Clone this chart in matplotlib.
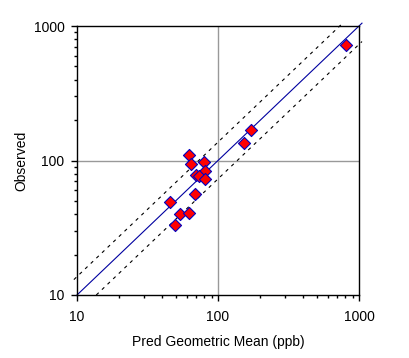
import numpy as np
import matplotlib.pyplot as plt
from matplotlib.ticker import LogLocator, NullFormatter, FixedLocator

plt.rcParams['font.family'] = ['Liberation Sans', 'DejaVu Sans']

# predicted geometric mean vs observed (ppb)
pred = [62.2, 64.3, 79.4, 80.7, 70.2, 73.2, 80.7, 68.2, 45.6, 53.7, 62.2, 49.3, 171.6, 153.9, 812.9]
observed = [109.9, 93.7, 97.0, 83.6, 78.4, 76.7, 72.5, 56.6, 49.1, 39.8, 40.7, 33.0, 168.6, 134.3, 722.0]
band = 1.37  # factor for the dashed lines
x_ticks = [10, 100, 1000]
tick_labels = ['10', '100', '1000']

fig = plt.figure(figsize=(4.09, 3.58), dpi=100)
ax = fig.add_axes([77 / 409, 1 - 295 / 358, 282 / 409, 269 / 358])
ax.set_xscale('log')
ax.set_yscale('log')
ax.set_xlim(10, 1000)
ax.set_ylim(10, 1000)

# grid only at 100
ax.axvline(100, color='#999999', lw=1, zorder=1)
ax.axhline(100, color='#999999', lw=1, zorder=1)

# 1:1 line and factor band
xs = np.array([10, 1050])
ax.plot(xs, xs, color='#0000a0', lw=0.8, clip_on=False, zorder=2)
xu = np.array([9.5, 1050 / band])
ax.plot(xu, xu * band, color='black', lw=0.8, ls=(0, (3, 4)), clip_on=False, zorder=2)
xl = np.array([10 * band, 1050])
ax.plot(xl, xl / band, color='black', lw=0.8, ls=(0, (3, 4)), clip_on=False, zorder=2)

ax.scatter(pred, observed, marker='D', s=38, facecolor='red', edgecolor='#0000c0',
           linewidth=0.8, zorder=3)

for sp in ax.spines.values():
    sp.set_linewidth(1)
    sp.set_color('black')

ax.xaxis.set_major_locator(FixedLocator(x_ticks))
ax.yaxis.set_major_locator(FixedLocator(x_ticks))
ax.set_xticklabels(tick_labels)
ax.set_yticklabels(tick_labels)
ax.xaxis.set_minor_locator(LogLocator(base=10, subs=np.arange(2, 10)))
ax.yaxis.set_minor_locator(LogLocator(base=10, subs=np.arange(2, 10)))
ax.xaxis.set_minor_formatter(NullFormatter())
ax.yaxis.set_minor_formatter(NullFormatter())
ax.tick_params(which='major', direction='out', length=4, width=1, labelsize=10, pad=5, colors='black')
ax.tick_params(which='minor', direction='out', length=2.5, width=1)
ax.tick_params(axis='x', which='major', pad=7)

ax.set_xlabel('Pred Geometric Mean (ppb)', fontsize=10, labelpad=8)
ax.set_ylabel('Observed', fontsize=10, labelpad=4)

fig.savefig('out.png', dpi=100)
